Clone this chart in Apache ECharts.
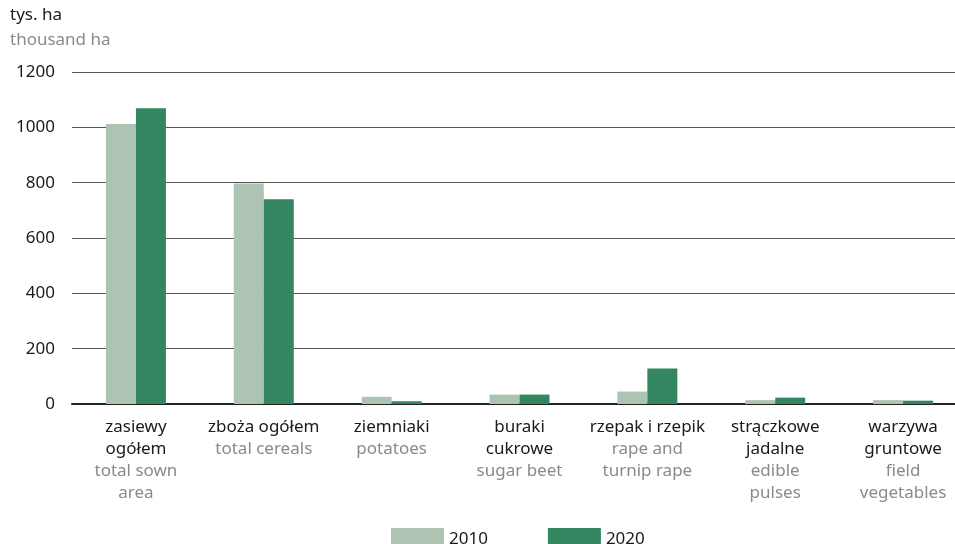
<!DOCTYPE html>
<html>
<head>
<meta charset="utf-8">
<script src="https://cdn.jsdelivr.net/npm/echarts@6/dist/echarts.min.js"></script>
<style>
    html, body { margin: 0; padding: 0; background: #fff; overflow: hidden; }
    #chart { width: 955px; height: 544px; }
</style>
</head>
<body>
<div id="chart"></div>
<script>
// category labels: polish / english
const categoriesPl = ['zasiewy\nogółem', 'zboża ogółem', 'ziemniaki', 'buraki\ncukrowe', 'rzepak i rzepik', 'strączkowe\njadalne', 'warzywa\ngruntowe']
const categoriesEn = ['total sown\narea', 'total cereals', 'potatoes', 'sugar beet', 'rape and\nturnip rape', 'edible\npulses', 'field\nvegetables']
const values2010 = [1012, 797, 26, 34, 45, 14, 14]
const values2020 = [1069, 740, 10, 34, 128, 23, 12]
const yTicks = [0, 200, 400, 600, 800, 1000, 1200]

const fontFamily = '"Noto Sans", "Open Sans", sans-serif'

const chart = echarts.init(document.getElementById('chart'))
chart.setOption({
    textStyle: { fontFamily },
    graphic: [
        { type: 'text', left: 10, top: 7, style: { text: 'tys. ha', fontSize: 17, fill: '#1a1a1a', fontFamily } },
        { type: 'text', left: 10, top: 32, style: { text: 'thousand ha', fontSize: 17, fill: '#8a8a8a', fontFamily } }
    ],
    grid: {
        left: 72,
        right: -12,
        top: 72,
        bottom: 140,
        outerBoundsMode: 'none'
    },
    legend: {
        top: 523,
        left: 386,
        itemWidth: 53,
        itemHeight: 22,
        itemGap: 60,
        icon: 'rect',
        textStyle: { fontSize: 17, color: '#1a1a1a', fontFamily },
        data: ['2010', '2020']
    },
    xAxis: {
        type: 'category',
        data: categoriesPl.map((pl, i) => `{pl|${pl}}\n{en|${categoriesEn[i]}}`),
        axisTick: { show: false },
        axisLine: { lineStyle: { color: '#222', width: 2 } },
        axisLabel: {
            margin: 12,
            interval: 0,
            rich: {
                pl: { fontSize: 17, color: '#1a1a1a', lineHeight: 22, fontFamily },
                en: { fontSize: 17, color: '#8a8a8a', lineHeight: 22, fontFamily }
            }
        }
    },
    yAxis: {
        type: 'value',
        min: yTicks[0],
        max: yTicks[yTicks.length - 1],
        interval: 200,
        axisLine: { show: false },
        axisTick: { show: false },
        axisLabel: { fontSize: 17, color: '#1a1a1a', margin: 17, fontFamily, formatter: v => String(v) },
        splitLine: { lineStyle: { color: '#555', width: 1 } }
    },
    series: [
        {
            name: '2010',
            type: 'bar',
            data: values2010,
            barWidth: 30,
            barGap: '0%',
            itemStyle: { color: '#adc4b3' }
        },
        {
            name: '2020',
            type: 'bar',
            data: values2020,
            barWidth: 30,
            itemStyle: { color: '#338660' }
        }
    ]
})
</script>
</body>
</html>
